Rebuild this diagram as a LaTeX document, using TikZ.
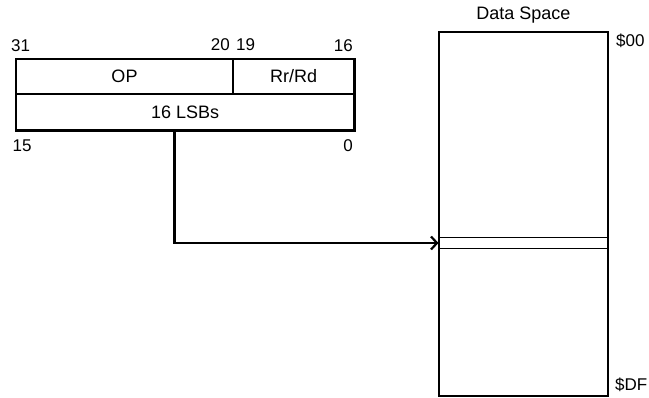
\documentclass[tikz,border=0pt]{standalone}
\usepackage{fontspec}
\setmainfont{Liberation Sans}
\usetikzlibrary{positioning,arrows.meta}

\tikzset{
	field/.style = {draw, line width=2.3pt, rectangle, inner sep=0, outer sep=0, anchor=north west},
	bitlbl/.style = {inner sep=0, font=\fontsize{17}{20}\selectfont},
	addr/.style = {inner sep=0, anchor=base west, font=\fontsize{17}{20}\selectfont},
	link/.style = {line width=2.2pt, -{Straight Barb[length=6pt,width=13pt]}}
}

\begin{document}
\begin{tikzpicture}[x=1pt, y=-1pt, font=\fontsize{18}{21}\selectfont]
		\useasboundingbox (0,0) rectangle (649,398);
		% instruction word
		\node [field, minimum width=217pt, minimum height=35pt] (op) at (16,59) {OP};
		\node [field, minimum width=121.5pt, minimum height=35pt, right=0 of op.north east, anchor=north west] (reg) {Rr/Rd};
		\node [field, minimum width=338.5pt, minimum height=36.5pt, below=0 of op.south west, anchor=north west] (lsb) {16 LSBs};
		\node [bitlbl, anchor=base west] (b31) at (11,52) {31};
		\node [bitlbl, anchor=base east] (b20) at (230,51) {20};
		\node [bitlbl, anchor=base west] (b19) at (236,51) {19};
		\node [bitlbl, anchor=base east] (b16) at (353,52) {16};
		\node [bitlbl, anchor=base west] (b15) at (12.5,152) {15};
		\node [bitlbl, anchor=base east] (b0) at (353,152) {0};
		% data space
		\node [field, minimum width=169pt, minimum height=364pt] (mem) at (439,32) {};
		\node [draw, line width=1pt, inner sep=0, minimum width=169pt, minimum height=11pt] (slot) at (523.5,243) {};
		\node [anchor=base] (title) at ([yshift=12pt]mem.north) {Data Space};
		\node [addr] (top) at (616,47) {\$00};
		\node [addr] (bot) at (615,391) {\$DF};
		% pointer
		\coordinate (tap) at (174.5,130);
		\draw[link] (tap) |- (slot.west);
	\end{tikzpicture}
\end{document}
